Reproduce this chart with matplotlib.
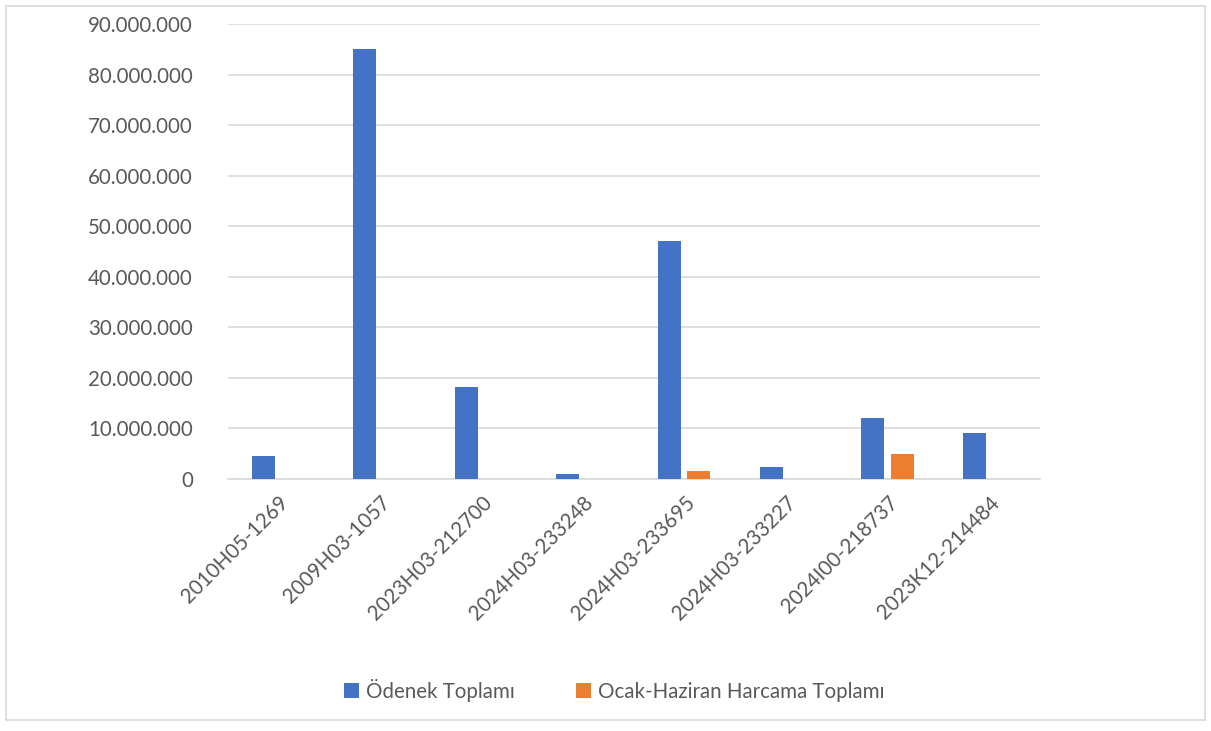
import matplotlib.pyplot as plt
import numpy as np
from matplotlib.patches import Rectangle
from matplotlib.ticker import FuncFormatter, MultipleLocator

plt.rcParams["font.family"] = ["Lato", "DejaVu Sans"]

categories = [
    "2010H05-1269",
    "2009H03-1057",
    "2023H03-212700",
    "2024H03-233248",
    "2024H03-233695",
    "2024H03-233227",
    "2024I00-218737",
    "2023K12-214484",
]
odenek = [4500000, 85000000, 18200000, 950000, 47000000, 2300000, 12000000, 9000000]
harcama = [0, 0, 60000, 0, 1600000, 0, 4900000, 0]

blue = "#4472C4"
orange = "#ED7D31"
text_color = "#595959"

fig = plt.figure(figsize=(12.11, 7.31), dpi=100)
ax = fig.add_axes([0.188, 0.345, 0.671, 0.622])

x = np.arange(len(categories))
w = 0.227
ax.bar(x - 0.15, odenek, w, color=blue, label="Ödenek Toplamı", zorder=3)
ax.bar(x + 0.14, harcama, w, color=orange, label="Ocak-Haziran Harcama Toplamı", zorder=3)

ax.set_xlim(-0.5, len(categories) - 0.5)
ax.set_ylim(0, 90000000)
ax.yaxis.set_major_locator(MultipleLocator(10000000))
ax.yaxis.set_major_formatter(FuncFormatter(lambda v, _: f"{int(v):,}".replace(",", ".")))
ax.grid(axis="y", color="#d9d9d9", linewidth=1.2, zorder=0)

for side in ["top", "right", "left"]:
    ax.spines[side].set_visible(False)
ax.spines["bottom"].set_color("#d9d9d9")
ax.spines["bottom"].set_linewidth(1.2)

ax.set_xticks(x)
ax.set_xticklabels(categories, rotation=45, ha="right", rotation_mode="anchor")
ax.tick_params(axis="both", length=0, colors=text_color, labelsize=14.8)
ax.tick_params(axis="y", pad=25)
ax.tick_params(axis="x", pad=10)

fig.legend(
    loc="center",
    bbox_to_anchor=(0.507, 0.056),
    ncol=2,
    frameon=False,
    fontsize=14.8,
    labelcolor=text_color,
    handlelength=0.75,
    handleheight=0.75,
    handletextpad=0.3,
    columnspacing=3.0,
)

fig.patches.append(
    Rectangle((0.005, 0.015), 0.99, 0.977, transform=fig.transFigure,
              fill=False, edgecolor="#d9d9d9", linewidth=1.2)
)

fig.savefig("out.png", dpi=100)
plt.close(fig)
